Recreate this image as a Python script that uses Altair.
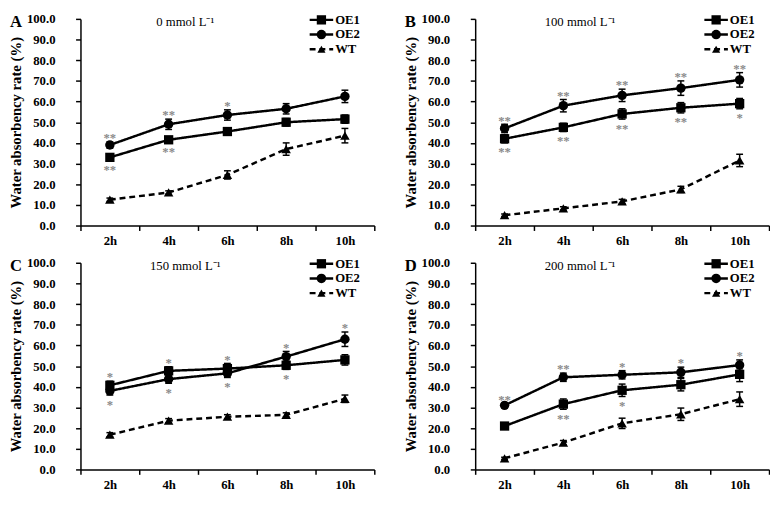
import altair as alt
import pandas as pd

FONT = "Liberation Serif"

times = ["2h", "4h", "6h", "8h", "10h"]
series_names = ["OE1", "OE2", "WT"]
panel_letters = ["A", "B", "C", "D"]
panel_titles = ["0 mmol L⁻¹", "100 mmol L⁻¹", "150 mmol L⁻¹", "200 mmol L⁻¹"]

oe1_mean = {"A": [33.0, 41.5, 45.5, 50.0, 51.5],
            "B": [42.0, 47.5, 54.0, 57.0, 59.0],
            "C": [40.7, 47.7, 48.8, 50.4, 53.0],
            "D": [21.0, 31.6, 38.3, 41.0, 46.0]}
oe1_err = {"A": [1.5, 1.5, 1.5, 1.8, 2.0],
           "B": [2.0, 2.0, 2.5, 2.5, 2.5],
           "C": [2.0, 2.0, 2.5, 2.0, 2.5],
           "D": [1.0, 2.5, 3.0, 3.0, 3.5]}
oe2_mean = {"A": [39.0, 49.0, 53.5, 56.5, 62.5],
            "B": [47.0, 58.0, 63.0, 66.5, 70.5],
            "C": [38.0, 43.7, 46.5, 54.6, 63.0],
            "D": [31.0, 44.6, 45.8, 47.0, 50.5]}
oe2_err = {"A": [1.5, 2.5, 2.5, 2.5, 3.0],
           "B": [2.0, 3.0, 3.0, 3.5, 3.5],
           "C": [2.0, 2.0, 2.0, 2.5, 3.5],
           "D": [1.0, 2.0, 2.0, 2.5, 2.5]}
wt_mean = {"A": [12.5, 16.0, 24.5, 37.0, 43.5],
           "B": [5.0, 8.3, 11.7, 17.5, 31.5],
           "C": [16.8, 23.6, 25.5, 26.4, 34.2],
           "D": [5.4, 13.0, 22.3, 26.7, 34.0]}
wt_err = {"A": [0.8, 0.8, 2.0, 3.0, 3.5],
          "B": [0.6, 0.8, 1.0, 1.5, 3.0],
          "C": [1.0, 1.0, 1.0, 1.0, 1.8],
          "D": [0.5, 1.0, 2.5, 3.0, 3.5]}

# significance marks: (panel, time, series, label, side: +1 above / -1 below)
stars = [
    ("A", "2h", "OE2", "**", 1), ("A", "2h", "OE1", "**", -1),
    ("A", "4h", "OE2", "**", 1), ("A", "4h", "OE1", "**", -1),
    ("A", "6h", "OE2", "*", 1),
    ("B", "2h", "OE2", "**", 1), ("B", "2h", "OE1", "**", -1),
    ("B", "4h", "OE2", "**", 1), ("B", "4h", "OE1", "**", -1),
    ("B", "6h", "OE2", "**", 1), ("B", "6h", "OE1", "**", -1),
    ("B", "8h", "OE2", "**", 1), ("B", "8h", "OE1", "**", -1),
    ("B", "10h", "OE2", "**", 1), ("B", "10h", "OE1", "*", -1),
    ("C", "2h", "OE1", "*", 1), ("C", "2h", "OE2", "*", -1),
    ("C", "4h", "OE1", "*", 1), ("C", "4h", "OE2", "*", -1),
    ("C", "6h", "OE1", "*", 1), ("C", "6h", "OE2", "*", -1),
    ("C", "8h", "OE2", "*", 1), ("C", "8h", "OE1", "*", -1),
    ("C", "10h", "OE2", "*", 1),
    ("D", "2h", "OE2", "**", 1),
    ("D", "4h", "OE2", "**", 1), ("D", "4h", "OE1", "**", -1),
    ("D", "6h", "OE2", "*", 1), ("D", "6h", "OE1", "*", -1),
    ("D", "8h", "OE2", "*", 1),
    ("D", "10h", "OE2", "*", 1),
]

means = {"OE1": oe1_mean, "OE2": oe2_mean, "WT": wt_mean}
errs = {"OE1": oe1_err, "OE2": oe2_err, "WT": wt_err}
shapes = {"OE1": "square", "OE2": "circle", "WT": "triangle-up"}
sizes = {"OE1": 90, "OE2": 95, "WT": 70}
dashes = {"OE1": [1, 0], "OE2": [1, 0], "WT": [6, 4]}

W, H = 300, 211
STAR_GAP = 3.2


def panel(letter, title):
    rows = []
    for s in series_names:
        for i, t in enumerate(times):
            m = means[s][letter][i]
            e = errs[s][letter][i]
            rows.append({"time": t, "series": s, "mean": m, "lo": m - e, "hi": m + e})
    df = pd.DataFrame(rows)

    srows = []
    for (p, t, s, lab, side) in stars:
        if p != letter:
            continue
        i = times.index(t)
        m = means[s][letter][i]
        e = errs[s][letter][i]
        srows.append({"time": t, "label": lab, "ypos": m + side * (e + STAR_GAP)})
    sdf = pd.DataFrame(srows)

    xscale = alt.Scale(type="band", paddingInner=0, paddingOuter=0)
    xaxis = alt.Axis(title=None, tickBand="extent", labelAngle=0, labelFont=FONT,
                     labelFontWeight="bold", labelFontSize=13, labelColor="black",
                     tickColor="black", tickSize=5, tickWidth=1.5, domainColor="black",
                     domainWidth=1.5, labelPadding=4, grid=False)
    yscale = alt.Scale(domain=[0, 100], nice=False)
    yaxis = alt.Axis(values=list(range(0, 101, 10)), format=".1f",
                     title="Water absorbency rate (%)", titleFont=FONT, titleFontSize=15,
                     titleFontWeight="bold", titleColor="black", titlePadding=3,
                     labelFont=FONT, labelFontWeight="bold", labelFontSize=13,
                     labelColor="black", labelPadding=21, labelOverlap=False,
                     tickSize=5, tickWidth=1.5,
                     tickColor="black", domainColor="black", domainWidth=1.5, grid=False)

    def X():
        return alt.X("time:O", sort=times, scale=xscale, axis=xaxis)

    def Y(field):
        return alt.Y(field, scale=yscale, axis=yaxis)

    base = alt.Chart(df)
    lines = base.mark_line(color="black", strokeWidth=2.5).encode(
        x=X(), y=Y("mean:Q"), detail="series:N",
        strokeDash=alt.StrokeDash("series:N", scale=alt.Scale(domain=series_names,
                                  range=[dashes[s] for s in series_names]), legend=None))
    bars = base.mark_rule(color="black", strokeWidth=1.5).encode(
        x=X(), y=Y("lo:Q"), y2="hi:Q")
    cap_lo = base.mark_tick(color="black", size=7, thickness=1.5, opacity=1).encode(
        x=X(), y=Y("lo:Q"))
    cap_hi = base.mark_tick(color="black", size=7, thickness=1.5, opacity=1).encode(
        x=X(), y=Y("hi:Q"))
    pts = base.mark_point(filled=True, color="black", opacity=1).encode(
        x=X(), y=Y("mean:Q"),
        shape=alt.Shape("series:N", scale=alt.Scale(domain=series_names,
                        range=[shapes[s] for s in series_names]), legend=None),
        size=alt.Size("series:N", scale=alt.Scale(domain=series_names,
                      range=[sizes[s] for s in series_names]), legend=None))
    star_txt = alt.Chart(sdf).mark_text(font=FONT, fontWeight="bold", fontSize=13,
                                        color="#8a8a8a", baseline="middle", dy=3).encode(
        x=X(), y=Y("ypos:Q"), text="label:N")

    ttl = alt.Chart(pd.DataFrame({"t": [title]})).mark_text(
        font=FONT, fontSize=13, color="black", align="center", baseline="alphabetic").encode(
        x=alt.value(107), y=alt.value(7), text="t:N")
    let = alt.Chart(pd.DataFrame({"t": [letter]})).mark_text(
        font=FONT, fontSize=17, fontWeight="bold", color="black", align="left",
        baseline="top").encode(x=alt.value(-72), y=alt.value(-5), text="t:N")

    legend_layers = []
    for i, s in enumerate(series_names):
        yv = 1 + 15 * i
        d1 = pd.DataFrame({"s": [s]})
        legend_layers.append(alt.Chart(d1).mark_rule(color="black", strokeWidth=2.5,
                                                      strokeDash=dashes[s]).encode(
            x=alt.value(234), x2=alt.value(258), y=alt.value(yv)))
        legend_layers.append(alt.Chart(d1).mark_point(filled=True, color="black", opacity=1,
                                                       shape=shapes[s], size=sizes[s]).encode(
            x=alt.value(246), y=alt.value(yv)))
        legend_layers.append(alt.Chart(d1).mark_text(font=FONT, fontWeight="bold", fontSize=13,
                                                      color="black", align="left",
                                                      baseline="middle").encode(
            x=alt.value(260), y=alt.value(yv), text="s:N"))

    return alt.layer(lines, bars, cap_lo, cap_hi, pts, star_txt, ttl, let,
                     *legend_layers).properties(width=W, height=H)


row1 = alt.hconcat(panel("A", panel_titles[0]), panel("B", panel_titles[1]), spacing=28)
row2 = alt.hconcat(panel("C", panel_titles[2]), panel("D", panel_titles[3]), spacing=28)
chart = alt.vconcat(row1, row2, spacing=10, padding=0, background="white").configure_view(stroke=None)

chart.save("out.html", embed_options={"renderer": "svg", "actions": False})
